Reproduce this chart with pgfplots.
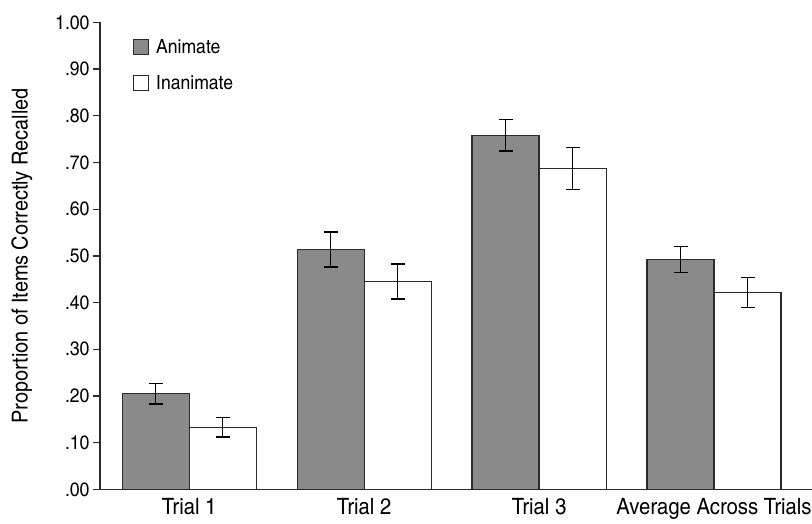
\documentclass[border=0pt]{standalone}
\usepackage{pgfplots}
\pgfplotsset{compat=1.18}
\usepackage{fontspec}
\setmainfont{TeX Gyre Heros Cn}[FakeStretch=1.1]
\definecolor{barfill}{HTML}{8A8A8A}
\definecolor{edge}{HTML}{2B2B2B}
\begin{document}
\begin{tikzpicture}
\path[use as bounding box] (-100pt,-34.6pt) rectangle (712pt,489.4pt);
\begin{axis}[
  scale only axis, width=712pt, height=467pt,
  xmin=-0.51, xmax=3.56, ymin=0, ymax=1,
  axis x line*=bottom, axis y line*=left,
  axis line style={edge, line width=1.3pt},
  ybar=0pt, bar width=0.383,
  ytick={0,0.1,0.2,0.3,0.4,0.5,0.6,0.7,0.8,0.9,1.0},
  yticklabels={.00,.10,.20,.30,.40,.50,.60,.70,.80,.90,1.00},
  tick align=outside, major tick length=7pt,
  y tick style={edge, line width=1.3pt},
  xtick={0,1,2,3},
  xticklabels={Trial 1,Trial 2,Trial 3,Average Across Trials},
  x tick style={draw=none},
  yticklabel style={font=\fontsize{19.5}{22}\selectfont},
  xticklabel style={font=\fontsize{22.5}{26}\selectfont, yshift=2pt},
  ylabel={Proportion of Items Correctly Recalled},
  every axis y label/.style={at={(axis description cs:-0.1096,0.5)}, anchor=center, rotate=90, font=\fontsize{22}{25}\selectfont},
  legend style={draw=none, fill=none, inner sep=0pt, at={(axis description cs:0.046,0.968)}, anchor=north west, row sep=16pt, font=\fontsize{19.5}{22}\selectfont,
    /tikz/every odd column/.append style={column sep=5pt}},
  legend cell align=left,
  legend image code/.code={\draw[#1, line width=1.2pt] (0pt,-7.5pt) rectangle (15pt,7.5pt);},
]
\addplot[fill=barfill, draw=edge, line width=1.2pt,
  error bars/.cd, y dir=both, y explicit,
  error bar style={line width=1.4pt, black},
  error mark options={rotate=90, mark size=7pt, line width=1.4pt, black}]
  coordinates {(0,0.205) +- (0,0.022) (1,0.514) +- (0,0.0375) (2,0.758) +- (0,0.0335) (3,0.492) +- (0,0.028)};
\addlegendentry{Animate}
\addplot[fill=white, draw=edge, line width=1.2pt,
  error bars/.cd, y dir=both, y explicit,
  error bar style={line width=1.4pt, black},
  error mark options={rotate=90, mark size=7pt, line width=1.4pt, black}]
  coordinates {(0,0.133) +- (0,0.021) (1,0.445) +- (0,0.0375) (2,0.687) +- (0,0.045) (3,0.422) +- (0,0.032)};
\addlegendentry{Inanimate}
\end{axis}
\end{tikzpicture}
\end{document}
